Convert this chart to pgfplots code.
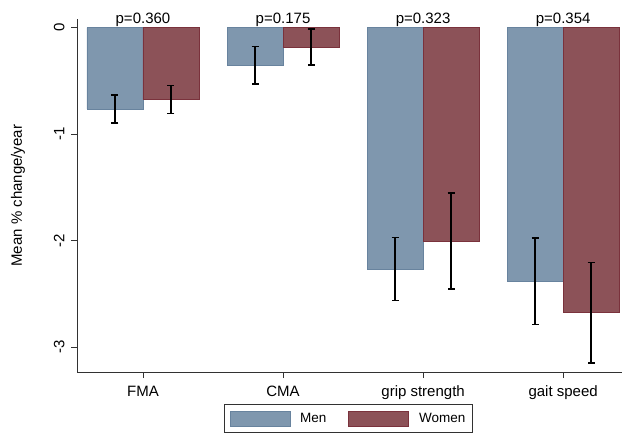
\documentclass[border=0pt]{standalone}
\usepackage{fontspec}
\setmainfont{Liberation Sans}
\usepackage{pgfplots}
\usepackage{pgfplotstable}
\pgfplotsset{compat=1.18}

\definecolor{menfill}{RGB}{127,151,174}
\definecolor{menedge}{RGB}{104,131,158}
\definecolor{womenfill}{RGB}{140,82,88}
\definecolor{womenedge}{RGB}{122,50,60}
\definecolor{axisgray}{RGB}{50,50,50}

% mean % change/year and half width of the interval
\pgfplotstableread{
x men menerr women womenerr
0 -0.763 0.133 -0.674 0.133
1 -0.352 0.178 -0.181 0.169
2 -2.265 0.296 -2.003 0.451
3 -2.382 0.407 -2.677 0.470
}\data

\begin{document}
\begin{tikzpicture}
\useasboundingbox (0,0) rectangle (623bp,440bp);
\begin{axis}[
  at={(77bp,67.3bp)}, anchor=south west,
  scale only axis, width=545bp, height=354bp,
  xmin=-0.471, xmax=3.42, ymin=-3.24, ymax=0.085,
  clip=false,
  axis x line*=bottom, axis y line*=left,
  axis line style={axisgray, line width=0.8bp},
  ybar=0pt, bar width=0.4,
  font=\fontsize{15bp}{18bp}\selectfont,
  xtick={0,1,2,3}, xticklabels={FMA,CMA,grip strength,gait speed},
  ytick={0,-1,-2,-3}, yticklabels={0,-1,-2,-3},
  tick align=outside, major tick length=5.5bp,
  tick style={axisgray, line width=0.8bp},
  xticklabel style={anchor=base, inner sep=0pt, yshift=-18bp},
  yticklabel style={xshift=-7bp, rotate=90, anchor=base, inner sep=0pt},
  ylabel={Mean \% change/year},
  every axis y label/.style={at={(axis description cs:-0.101,0.5)}, rotate=90, anchor=base},
  legend columns=2,
  legend style={at={(0.498,-0.0896)}, anchor=north, draw=axisgray, line width=0.6bp,
    font=\fontsize{13.5bp}{16bp}\selectfont, inner xsep=5bp, inner ysep=6bp,
    /tikz/every odd column/.append style={column sep=8bp},
    /tikz/every even column/.append style={column sep=20bp}},
  legend image code/.code={\draw[#1] (0bp,-7.5bp) rectangle (60bp,7.5bp);},
  error bars/y dir=both, error bars/y explicit,
  error bars/error bar style={black, line width=1.5bp},
  error bars/error mark options={black, line width=1.5bp, mark size=3.5bp, rotate=90},
]
\addplot[fill=menfill, draw=menedge, line width=0.6bp]
  table[x=x, y=men, y error=menerr] {\data};
\addlegendentry{Men}
\addplot[fill=womenfill, draw=womenedge, line width=0.6bp]
  table[x=x, y=women, y error=womenerr] {\data};
\addlegendentry{Women}

\node[anchor=base, yshift=4bp] at (axis cs:0,0) {p=0.360};
\node[anchor=base, yshift=4bp] at (axis cs:1,0) {p=0.175};
\node[anchor=base, yshift=4bp] at (axis cs:2,0) {p=0.323};
\node[anchor=base, yshift=4bp] at (axis cs:3,0) {p=0.354};
\end{axis}
\end{tikzpicture}
\end{document}
